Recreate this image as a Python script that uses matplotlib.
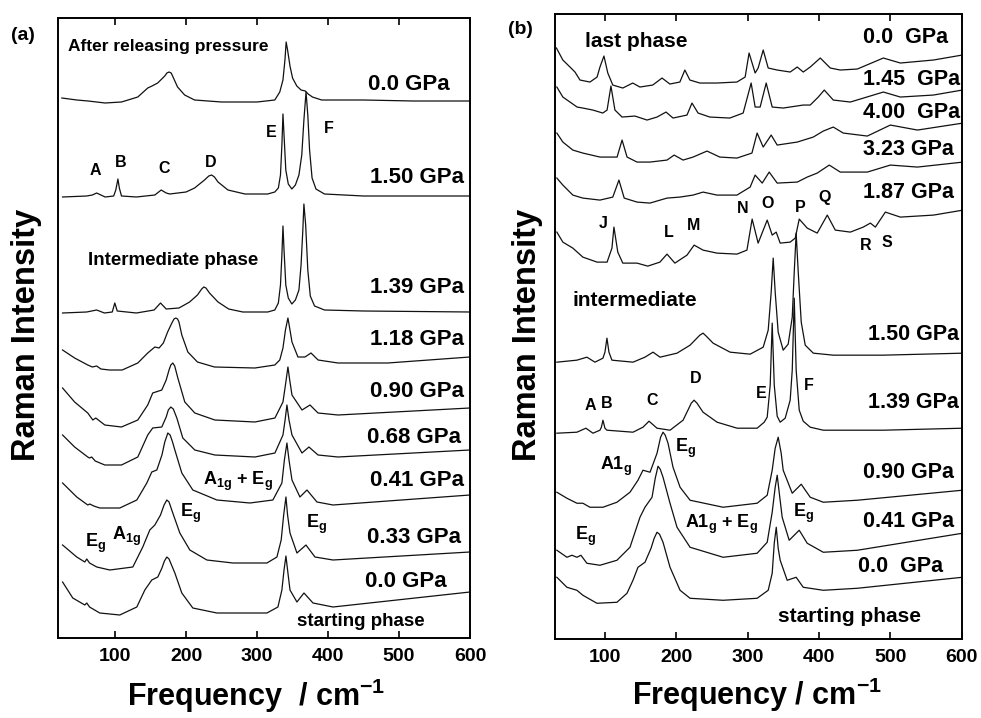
import matplotlib
matplotlib.use("Agg")
import matplotlib.pyplot as plt

plt.rcParams['font.family'] = ['Liberation Sans', 'DejaVu Sans']
plt.rcParams['font.weight'] = 'bold'
plt.rcParams['mathtext.default'] = 'regular'

# ---------------- Panel (a) data: frequency (cm-1) and relative intensity ----------------
a_labels = ["0.0 GPa", "1.50 GPa", "1.39 GPa", "1.18 GPa", "0.90 GPa",
            "0.68 GPa", "0.41 GPa", "0.33 GPa", "0.0 GPa"]
a_offsets = [537, 442, 326, 273, 223, 181, 133, 76, 31]

a0_x = [25, 46, 62, 86, 109, 132, 146, 152, 160, 170, 173, 176, 179, 181, 188, 198, 212, 250, 300, 325, 332,
        336.5, 339.3, 341, 343, 346.4, 350, 356, 362, 368, 372, 378, 391, 450, 520, 600]
a0_y = [3, 1, 0, -2, -1, 4, 13, 15, 18, 25, 28, 29, 28, 25, 14, 6, 1, -1, -1, 1, 9,
        21, 41, 59, 51, 35, 23, 15, 11, 10, 7, 4, 1, 1, 0, 0]

a1_x = [26, 60, 68, 74, 80, 86, 98, 101, 104, 106, 109, 130, 156, 165, 172, 177, 200, 212, 226, 232, 236,
        240, 245, 259, 283, 315, 325, 330, 333, 335, 336.5, 338, 340.5, 344, 349, 354, 359, 363, 366, 369,
        371.5, 374, 377.5, 383, 395, 450, 600]
a1_y = [-1, 0, 1, 3, 1, -1, 0, 6, 17, 8, 0, -1, 1, 6, 3, 2, 4, 8, 16, 20, 21,
        19, 14, 6, 2, 2, 4, 8, 21, 51, 82, 61, 26, 12, 7, 11, 21, 41, 76, 104,
        81, 46, 18, 7, 2, 0, 0]

a2_x = [26, 60, 74, 85, 96, 99.6, 103, 130, 155, 164, 172, 190, 205, 216, 222, 225, 228, 233, 245, 260,
        280, 315, 325, 330, 333, 335, 336.5, 338, 340.5, 344, 349, 354, 359, 362, 364.5, 366, 368.5,
        371.5, 375, 381, 395, 450, 600]
a2_y = [-1, 0, 2, -1, 0, 9, 1, -1, 2, 9, 3, 4, 10, 17, 23, 25, 24, 19, 10, 3,
        0, 0, 2, 9, 27, 57, 86, 62, 27, 14, 8, 12, 22, 47, 82, 108, 87,
        42, 16, 6, 2, 1, 0]

a3_x = [26, 43, 61.5, 68, 74, 80, 92, 110, 132, 146, 156, 162, 168, 174, 180, 183, 185.5, 188, 190, 194,
        202.5, 216, 240, 297, 325, 332, 336.5, 340, 343.5, 346.4, 349.2, 357.6, 367.5, 376, 386, 414,
        484, 600]
a3_y = [15, 7, 0, -2, -1, -4, -5, -5, 2, 12, 18, 17, 22, 33, 42, 46, 47, 46, 43, 30,
        13, 3, -2, -3, 0, 5, 17, 35, 47, 35, 23, 8, 8, 12, 5, 2,
        2, 8]

a4_x = [26, 43, 61.5, 68.6, 72.8, 85.5, 109, 132, 146, 153, 165.8, 172, 176, 178.5, 181.3, 184, 188.4,
        198.2, 212.3, 240.5, 297, 325.2, 336.5, 340, 343.5, 346, 349.2, 363.3, 374.6, 385.9, 414, 600]
a4_y = [27, 13, 2, -5, -3, -10, -12, -5, 10, 22, 25, 35, 45, 50, 52, 49, 37,
        13, 2, -5, -7, -3, 13, 30, 48, 35, 20, 5, 10, 2, 0, 7]

a5_x = [26, 43, 61.5, 64, 67, 72, 85.5, 109, 132, 146, 153, 165.8, 172, 175, 178.5, 182, 187, 195.4,
        212.3, 240.5, 297, 325.2, 336.5, 339.5, 342.1, 345, 349.2, 363.3, 373.1, 385.9, 414, 600]
a5_y = [22, 10, 0, -1, 0, -4, -8, -8, 0, 22, 29, 30, 40, 47, 50, 48, 39, 19,
        7, 2, 0, 4, 22, 37, 52, 37, 22, 4, 10, 2, 0, 7]

a6_x = [26, 46, 61.5, 64.3, 70, 78.4, 106.6, 130.6, 144.7, 151.7, 158.8, 166, 170, 174.3, 177.5, 180.5,
        184.2, 194, 209.5, 243.4, 289.9, 322.3, 335, 338.5, 342.1, 345, 349.2, 360.4, 370.3, 384.4, 407, 600]
a6_y = [22, 8, 0, 1, -1, -3, -3, 5, 22, 33, 35, 50, 63, 72, 70, 64,
        55, 32, 15, 5, 2, 5, 22, 45, 62, 45, 25, 8, 15, 3, 0, 10]

a7_x = [26, 46, 57.3, 60.1, 64, 74.2, 92.5, 125, 139, 148.9, 156, 164, 169, 172.9, 176, 181.3, 191.2,
        205.3, 229.3, 265.9, 313.9, 328, 334, 337.5, 340.7, 343, 346.4, 356.2, 368.9, 381.6, 407, 600]
a7_y = [17, 5, 0, 3, -1, -5, -8, -5, 15, 32, 37, 47, 57, 62, 60, 49, 29,
        12, 2, -1, -1, 5, 22, 47, 65, 47, 29, 9, 17, 5, 2, 10]

a8_x = [26, 40.4, 57.3, 60.1, 64, 78.4, 106.6, 130.6, 141.9, 151.7, 160.2, 166, 169.5, 172.9, 176, 179.5,
        184.2, 194, 209.5, 243.4, 313.9, 329.4, 335, 338, 340.7, 343, 346.4, 356.2, 366.1, 378.8, 407, 600]
a8_y = [25, 9, 2, 4, 0, -6, -8, 0, 17, 27, 30, 39, 46, 50, 48, 42,
        34, 14, -1, -6, -6, 0, 17, 37, 51, 37, 17, 5, 14, 4, 0, 15]

# ---------------- Panel (b) data ----------------
b_labels = ["0.0  GPa", "1.45  GPa", "4.00  GPa", "3.23 GPa", "1.87 GPa",
            "1.50 GPa", "1.39 GPa", "0.90 GPa", "0.41 GPa", "0.0  GPa"]
b_offsets = [556, 522, 482, 441, 377, 277, 209, 136, 82, 41]

b0_x = [32, 41, 51, 58, 65, 79, 89, 93, 98.6, 104, 111, 125, 139, 149, 167, 180, 191, 205, 212, 219,
        233, 257, 285, 296.5, 302, 310.5, 314.7, 321.8, 328.8, 341.4, 359.6, 369.5, 377.9, 387.7,
        401.8, 415.8, 429.8, 453.7, 490.2, 514, 560.4, 601]
b0_y = [35, 23, 16, 11, 3, 1, 6, 16, 27, 10, -2, -5, 0, -4, -2, 5, -1, 1, 13, 3,
        0, 0, 1, 6, 30, 10, 15, 33, 15, 13, 11, 16, 11, 16,
        25, 15, 13, 14, 25, 20, 23, 28]

b1_x = [32.6, 41, 51, 61, 69, 83, 97, 103, 108.4, 114, 124, 142, 159, 173, 185.6, 195.4, 215, 222, 230.5,
        247, 275, 293.7, 304.9, 310.5, 317.5, 326, 334.4, 349.8, 377.9, 387.7, 399, 407.4, 420, 443.9,
        490.2, 514, 560.4, 601]
b1_y = [30, 20, 15, 10, 9, 7, 4, 7, 31, 7, 0, 1, -3, 0, 5, -1, 2, 14, 4,
        0, -1, 4, 34, 10, 10, 34, 10, 9, 12, 12, 20, 27, 17, 15,
        25, 20, 22, 27]

b2_x = [32.6, 41, 55, 69, 93, 117, 124, 131, 145, 163, 187, 197, 209.5, 223.5, 243, 261, 285, 306, 313.3,
        321.8, 333, 341.4, 369.5, 392, 406, 420, 434, 467.7, 500, 538, 602]
b2_y = [24, 15, 7, 4, 0, 0, 17, 0, -5, -5, -3, 2, -3, 0, 6, 0, -1, 4, 24,
        10, 22, 12, 15, 20, 26, 30, 24, 21, 32, 27, 34]

b3_x = [32.6, 41, 55, 69, 93, 111, 119.6, 127, 145, 163, 187, 205, 223.5, 237.5, 257, 285, 303.5, 310.5,
        320.4, 330.2, 341.4, 369.5, 383.5, 397.5, 414.4, 429.8, 467.7, 500, 538, 602]
b3_y = [20, 13, 3, 0, -2, 1, 18, 0, -4, -5, 0, 1, 3, 6, 3, 3, 11, 23,
        15, 26, 15, 16, 21, 25, 33, 26, 26, 33, 31, 36]

b4_x = [32.6, 41, 55, 69, 89, 103, 109.8, 112.6, 118, 125, 145, 160, 177, 187, 198, 215, 225, 237.5, 257,
        285, 299, 306.3, 314.7, 327.4, 334.4, 340, 345.6, 359.6, 366.7, 372.3, 383.5, 397.5, 411.6,
        422.8, 443.9, 462, 472, 479, 493, 514, 560.4, 602]
b4_y = [30, 20, 14, 5, 0, 0, 14, 35, 10, -1, -1, -4, 0, 8, -1, 7, 17, 12, 9,
        8, 12, 43, 19, 42, 27, 30, 19, 20, 24, 43, 34, 29, 47,
        32, 30, 35, 39, 35, 50, 45, 47, 52]

b5_x = [32.6, 60.7, 74.7, 86, 97.2, 100, 102.8, 105.6, 109.8, 139.3, 156.1, 167.4, 177.2, 201, 219.3,
        233, 237.5, 242, 251.6, 275.4, 303.5, 321.8, 328.8, 333, 335.8, 338.6, 342.8, 349.8, 356.8, 362.5,
        365.3, 368, 370.9, 375.1, 380.7, 392, 420, 490, 602]
b5_y = [0, 2, 5, 0, 4, 10, 24, 10, 2, 0, 5, 10, 5, 9, 17,
        27, 29, 26, 19, 10, 8, 15, 32, 70, 104, 70, 30, 12, 18, 45,
        90, 129, 90, 40, 17, 9, 7, 7, 9]

b6_x = [32.6, 60.7, 73.3, 83.2, 93, 95, 97.2, 100, 102.8, 139.3, 153.3, 161.8, 173, 191.2, 209.5, 221,
        224.9, 229, 237.5, 257.2, 285.3, 313.3, 323.2, 327.4, 331.6, 334.4, 337.3, 341.4, 345.6, 352.6,
        359.6, 362.5, 365.3, 368, 372.3, 377.9, 387.7, 406, 490, 602]
b6_y = [-3, -2, 2, -3, 0, 3, 10, 2, 0, -2, 3, 9, 2, 0, 10, 27,
        30, 27, 18, 8, 2, 2, 8, 13, 45, 107, 45, 14, 8, 12,
        30, 60, 132, 60, 20, 9, 3, 0, 0, 2]

b7_x = [32.6, 46.7, 60.7, 69.1, 78.9, 97.2, 116.8, 135.1, 146.3, 153.3, 163.2, 173, 178, 181.4, 184.5,
        188.4, 195.4, 205.3, 219.3, 265.6, 313.3, 327.4, 334.4, 338.6, 342.8, 347, 349.8, 362.5, 375.1,
        387.7, 406, 453.7, 601]
b7_y = [11, 5, 0, 0, -4, -4, 1, 11, 23, 33, 31, 50, 66, 71, 68,
        60, 36, 16, 3, -4, 0, 8, 33, 55, 66, 50, 33, 10, 19,
        6, 1, 3, 13]

b8_x = [32.6, 46.7, 53.7, 60.7, 66.3, 74.7, 93, 116.8, 135.1, 149.1, 156.1, 166, 170.5, 174.4, 177.5,
        181.4, 191.2, 201, 219.3, 265.6, 313.3, 327.4, 334.4, 338.6, 341.4, 344.2, 348.4, 358.2, 372.3,
        383.5, 406, 453.7, 601]
b8_y = [7, 0, 2, 0, 2, -6, -8, -3, 10, 40, 50, 60, 79, 91, 88,
        80, 54, 30, 10, 0, 4, 15, 45, 70, 82, 65, 40, 17, 27,
        14, 5, 7, 24]

b9_x = [32.6, 46.7, 60.7, 69.1, 88.8, 116.8, 130.9, 139.3, 146.3, 156.1, 164.6, 169, 173, 176.5, 181.4,
        191.2, 205.3, 219.3, 265.6, 313.3, 328.8, 334.4, 337.3, 340.1, 342.8, 345.6, 355.4, 368, 377.9,
        406, 453.7, 601]
b9_y = [21, 11, 8, 3, -5, -4, 5, 18, 31, 36, 50, 60, 66, 64, 56,
        31, 8, 0, -2, 0, 8, 25, 55, 71, 50, 38, 18, 21, 11,
        8, 10, 21]

a_spectra = [(a0_x, a0_y), (a1_x, a1_y), (a2_x, a2_y), (a3_x, a3_y), (a4_x, a4_y),
             (a5_x, a5_y), (a6_x, a6_y), (a7_x, a7_y), (a8_x, a8_y)]
b_spectra = [(b0_x, b0_y), (b1_x, b1_y), (b2_x, b2_y), (b3_x, b3_y), (b4_x, b4_y),
             (b5_x, b5_y), (b6_x, b6_y), (b7_x, b7_y), (b8_x, b8_y), (b9_x, b9_y)]

# ---------------- Figure ----------------
W, H = 981, 718
fig = plt.figure(figsize=(W / 100, H / 100), dpi=100)
axA = fig.add_axes([58.3 / W, (H - 638) / H, (470 - 58.3) / W, (638 - 18) / H])
axB = fig.add_axes([555 / W, (H - 639.3) / H, (961.7 - 555) / W, (639.3 - 14) / H])


def style(ax, xmin, ymax):
    ax.set_xlim(xmin, 600)
    ax.set_ylim(0, ymax)
    ax.set_yticks([])
    ax.set_xticks([100, 200, 300, 400, 500, 600])
    ax.tick_params(axis='x', direction='in', length=5, width=1.2, top=True,
                   labelsize=14, pad=7)
    for s in ax.spines.values():
        s.set_linewidth(1.4)


style(axA, 20, 620)
style(axB, 30, 625)

for (xs, ys), off in zip(a_spectra, a_offsets):
    axA.plot(xs, [off + v for v in ys], color='#111111', lw=0.9)
for (xs, ys), off in zip(b_spectra, b_offsets):
    axB.plot(xs, [off + v for v in ys], color='#111111', lw=0.9)

# pressure labels
a_lab_x = [456, 459, 459, 459, 459, 455, 459, 455, 452]
a_lab_y = [548, 455, 345, 293, 241, 195, 152, 95, 51]
for t, x, y in zip(a_labels, a_lab_x, a_lab_y):
    axA.text(x, y, t, fontsize=16, ha='left', va='baseline')

b_lab_x = [462, 461, 461, 462, 461, 468, 468, 461, 461, 455]
b_lab_y = [596, 554, 521, 484, 441, 299, 231, 161, 112, 67]
for t, x, y in zip(b_labels, b_lab_x, b_lab_y):
    axB.text(x, y, t, fontsize=15.5, ha='left', va='baseline')

# panel (a) annotations
axA.text(33.3, 586.5, "After releasing pressure", fontsize=12.5, ha='left', va='baseline')
axA.text(61.5, 373, "Intermediate phase", fontsize=13.5, ha='left', va='baseline')
axA.text(356, 12, "starting phase", fontsize=13.5, ha='left', va='baseline')
for t, x, y in [("A", 72.8, 463), ("B", 108.2, 471), ("C", 168.6, 465),
                ("D", 234.9, 471), ("E", 319.5, 501), ("F", 401.3, 505)]:
    axA.text(x, y, t, fontsize=11.5, ha='center', va='baseline')
for t, x, y in [(r"E$_\mathregular{g}$", 57.3, 91), (r"A$_\mathregular{1g}$", 95.3, 98),
                (r"E$_\mathregular{g}$", 191.2, 121),
                (r"A$_\mathregular{1g}$ + E$_\mathregular{g}$", 224, 153),
                (r"E$_\mathregular{g}$", 368.8, 110)]:
    axA.text(x, y, t, fontsize=13, ha='left', va='baseline')

# panel (b) annotations
axB.text(71.9, 592, "last phase", fontsize=15, ha='left', va='baseline')
axB.text(55.1, 333, "intermediate", fontsize=15, ha='left', va='baseline')
axB.text(342.8, 17, "starting phase", fontsize=15, ha='left', va='baseline')
for t, x, y in [("J", 97.2, 411), ("L", 189.8, 402), ("M", 223.5, 409), ("N", 293.7, 426),
                ("O", 327.4, 431), ("P", 373.7, 427), ("Q", 407.4, 437), ("R", 464.9, 389),
                ("S", 495.8, 392), ("A", 78.9, 229), ("B", 102.8, 231), ("C", 166, 234),
                ("D", 227.7, 256), ("E", 318.9, 241), ("F", 386.3, 249)]:
    axB.text(x, y, t, fontsize=11.5, ha='center', va='baseline')
for t, x, y in [(r"E$_\mathregular{g}$", 198.2, 187), (r"A1$_\mathregular{g}$", 93, 169),
                (r"E$_\mathregular{g}$", 57.9, 99),
                (r"A1$_\mathregular{g}$ + E$_\mathregular{g}$", 212.3, 111),
                (r"E$_\mathregular{g}$", 363.9, 122)]:
    axB.text(x, y, t, fontsize=13, ha='left', va='baseline')

# axis titles and panel tags
fig.text(27 / W, (H - 335) / H, "Raman Intensity", rotation=90, fontsize=23.5,
         ha='center', va='center')
fig.text(527.5 / W, (H - 335) / H, "Raman Intensity", rotation=90, fontsize=23.5,
         ha='center', va='center')
fig.text(127 / W, (H - 706) / H, r"Frequency  / cm$^{-1}$", fontsize=22,
         ha='left', va='baseline')
fig.text(632 / W, (H - 705) / H, r"Frequency / cm$^{-1}$", fontsize=22,
         ha='left', va='baseline')
fig.text(22.5 / W, (H - 35) / H, "(a)", fontsize=14, ha='center', va='center')
fig.text(520.5 / W, (H - 29.5) / H, "(b)", fontsize=14, ha='center', va='center')

fig.savefig("out.png", dpi=100)
